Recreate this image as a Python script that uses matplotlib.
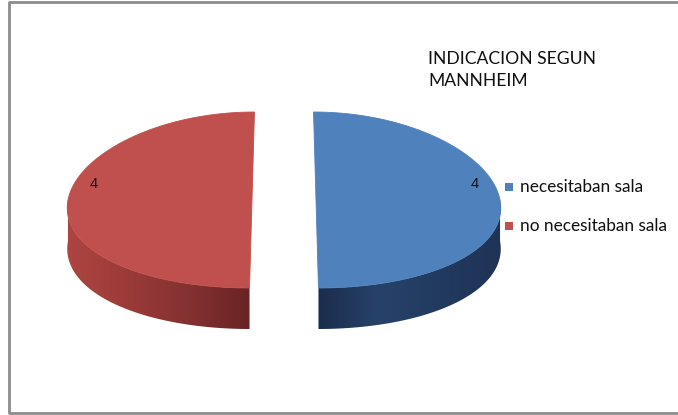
import numpy as np
import matplotlib
matplotlib.use("Agg")
import matplotlib.pyplot as plt
from matplotlib.patches import Polygon, Rectangle
from matplotlib.colors import LinearSegmentedColormap

# Data
categories = ["necesitaban sala", "no necesitaban sala"]
values = [4, 4]
title_text = "INDICACION SEGUN\nMANNHEIM"

top_colors = ["#4f81bd", "#c0504d"]
# side shading stops (left -> right across the visible rim of each slice)
side_stops = [
    ["#1b2d4b", "#27426a", "#223a5f", "#1e3457"],
    ["#ad4542", "#9b3b39", "#843131", "#6a2323"],
]

W, H = 678, 415
fig = plt.figure(figsize=(W / 100, H / 100), dpi=100)
ax = fig.add_axes([0, 0, 1, 1])
ax.set_xlim(0, W)
ax.set_ylim(H, 0)
ax.axis("off")

# chart frame (open on the right)
ax.plot([690, 9, 9, 690], [2, 2, 413, 413], color="#8c8c8c", lw=2, solid_capstyle="butt")

# 3D pie geometry in pixel space
cx, cy = 284, 200
rx, ry = 184, 88
thick = 41
explode = 32
persp = 0.00088


def project(theta, r, z, dx):
    y0 = cy - ry * r * np.sin(theta)
    s = 1 + persp * (y0 - cy)
    x = cx + s * (rx * r * np.cos(theta) + dx)
    return x, y0 + z


total = sum(values)
start = np.pi / 2
for k, v in enumerate(values):
    sweep = 2 * np.pi * v / total
    a0, a1 = start, start - sweep  # clockwise from 12 o'clock
    mid = (a0 + a1) / 2
    dx = explode * np.cos(mid)

    th = np.linspace(a0, a1, 400)

    # visible rim: front half of the ellipse (sin(theta) <= 0)
    front = th[np.sin(np.mod(th, 2 * np.pi)) <= 1e-9]
    if len(front) > 1:
        arc = np.linspace(front.max(), front.min(), 200)
        upper = [project(t, 1, 0, dx) for t in arc]
        lower = [project(t, 1, thick, dx) for t in arc[::-1]]
        side = Polygon(upper + lower, closed=True, facecolor="none", edgecolor="none")
        ax.add_patch(side)
        xs = [p[0] for p in upper]
        ys = [p[1] for p in upper + lower]
        x0, x1 = min(xs), max(xs)
        cmap = LinearSegmentedColormap.from_list(f"rim{k}", side_stops[k])
        grad = np.linspace(0, 1, 256)[None, :]
        im = ax.imshow(grad, cmap=cmap, extent=[x0, x1, max(ys) + 1, min(ys) - 1],
                       aspect="auto", interpolation="bilinear", zorder=1)
        im.set_clip_path(side)

    # top face
    pts = [project(t, 1, 0, dx) for t in th]
    pts.append(project(0, 0, 0, dx))
    ax.add_patch(Polygon(pts, closed=True, facecolor=top_colors[k],
                         edgecolor=top_colors[k], lw=0.6, zorder=2))

    # data label
    lx, ly = project(mid, 0.86, 0, dx)
    ax.text(lx, ly - 16, str(v), fontsize=10.5, color="#141414",
            family="Liberation Sans", ha="center", va="center", zorder=3)
    start = a1

ax.set_xlim(0, W)
ax.set_ylim(H, 0)

# title
ax.text(428, 51, title_text, fontsize=12.6, color="#111111", family="Lato",
        ha="left", va="top", linespacing=1.45)

# legend
for k, lab in enumerate(categories):
    yy = 187 + 39 * k
    ax.add_patch(Rectangle((505, yy - 4), 8, 8, facecolor=top_colors[k], edgecolor="none"))
    ax.text(520, yy, lab, fontsize=12.4, color="#111111", family="Lato",
            ha="left", va="center")

fig.savefig("out.png", dpi=100)
